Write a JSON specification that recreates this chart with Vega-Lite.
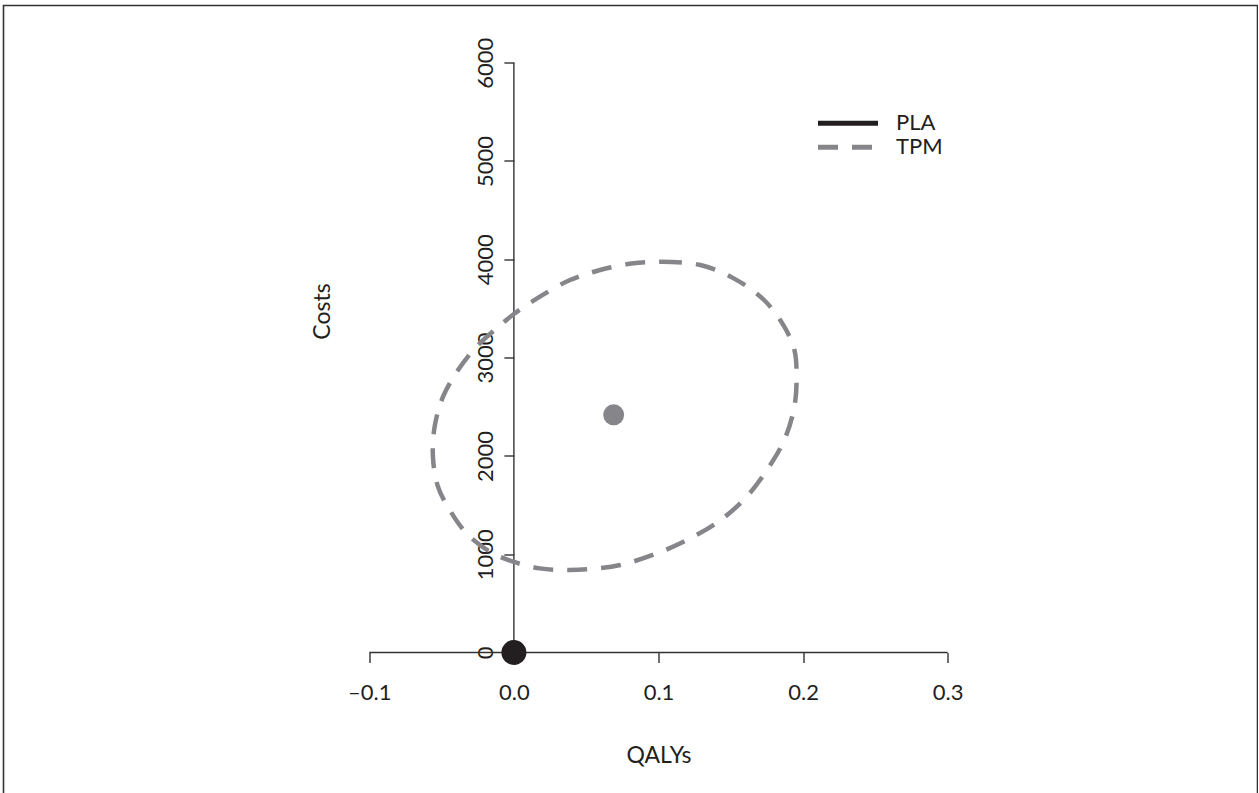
{
  "$schema": "https://vega.github.io/schema/vega-lite/v6.json",
  "autosize": {"type": "none"},
  "padding": {"left": 3.5, "top": 5.5, "right": 0, "bottom": 0},
  "width": 1254,
  "height": 800,
  "background": "white",
  "config": {
    "view": {"stroke": "#333333", "strokeWidth": 1.6},
    "font": "Lato",
    "axis": {"grid": false, "domain": false, "tickColor": "#333333", "tickWidth": 1.4, "tickSize": 10,
             "labelFont": "Lato", "labelFontSize": 22, "labelColor": "#231f20",
             "titleFont": "Lato", "titleFontSize": 23, "titleColor": "#231f20", "titleFontWeight": "normal"}
  },
  "datasets": {
    "axislines": [
      {"x": -0.1, "x2": 0.3, "y": 0, "y2": 0},
      {"x": 0, "x2": 0, "y": 0, "y2": 6000}
    ],
    "ellipse": [
      {"group": "PLA", "i": 0, "qaly": 0, "cost": 0},
      {"group": "TPM", "i": 0, "qaly": 0.1024, "cost": 3976},
      {"group": "TPM", "i": 1, "qaly": 0.129, "cost": 3942},
      {"group": "TPM", "i": 2, "qaly": 0.152, "cost": 3806},
      {"group": "TPM", "i": 3, "qaly": 0.173, "cost": 3586},
      {"group": "TPM", "i": 4, "qaly": 0.187, "cost": 3314},
      {"group": "TPM", "i": 5, "qaly": 0.194, "cost": 3077},
      {"group": "TPM", "i": 6, "qaly": 0.1955, "cost": 2806},
      {"group": "TPM", "i": 7, "qaly": 0.194, "cost": 2501},
      {"group": "TPM", "i": 8, "qaly": 0.187, "cost": 2162},
      {"group": "TPM", "i": 9, "qaly": 0.175, "cost": 1857},
      {"group": "TPM", "i": 10, "qaly": 0.161, "cost": 1585},
      {"group": "TPM", "i": 11, "qaly": 0.143, "cost": 1348},
      {"group": "TPM", "i": 12, "qaly": 0.122, "cost": 1162},
      {"group": "TPM", "i": 13, "qaly": 0.099, "cost": 1009},
      {"group": "TPM", "i": 14, "qaly": 0.0735, "cost": 890},
      {"group": "TPM", "i": 15, "qaly": 0.0504, "cost": 846},
      {"group": "TPM", "i": 16, "qaly": 0.0365, "cost": 839},
      {"group": "TPM", "i": 17, "qaly": 0.018, "cost": 856},
      {"group": "TPM", "i": 18, "qaly": -0.0005, "cost": 924},
      {"group": "TPM", "i": 19, "qaly": -0.0166, "cost": 1025},
      {"group": "TPM", "i": 20, "qaly": -0.0328, "cost": 1213},
      {"group": "TPM", "i": 21, "qaly": -0.0444, "cost": 1450},
      {"group": "TPM", "i": 22, "qaly": -0.0525, "cost": 1687},
      {"group": "TPM", "i": 23, "qaly": -0.056, "cost": 1992},
      {"group": "TPM", "i": 24, "qaly": -0.0548, "cost": 2297},
      {"group": "TPM", "i": 25, "qaly": -0.049, "cost": 2602},
      {"group": "TPM", "i": 26, "qaly": -0.0386, "cost": 2874},
      {"group": "TPM", "i": 27, "qaly": -0.0259, "cost": 3111},
      {"group": "TPM", "i": 28, "qaly": -0.012, "cost": 3298},
      {"group": "TPM", "i": 29, "qaly": 0.0007, "cost": 3451},
      {"group": "TPM", "i": 30, "qaly": 0.018, "cost": 3620},
      {"group": "TPM", "i": 31, "qaly": 0.0388, "cost": 3789},
      {"group": "TPM", "i": 32, "qaly": 0.0596, "cost": 3891},
      {"group": "TPM", "i": 33, "qaly": 0.0827, "cost": 3959},
      {"group": "TPM", "i": 34, "qaly": 0.1024, "cost": 3976}
    ],
    "means": [
      {"group": "PLA", "qaly": 0, "cost": 0},
      {"group": "TPM", "qaly": 0.069, "cost": 2418}
    ]
  },
  "layer": [
    {
      "data": {"name": "axislines"},
      "mark": {"type": "rule", "color": "#333333", "strokeWidth": 1.4},
      "encoding": {
        "x": {"field": "x", "type": "quantitative",
              "scale": {"domain": [-0.35297, 0.51425], "nice": false, "zero": false},
              "axis": {"values": [-0.1, 0, 0.1, 0.2, 0.3], "offset": -153, "labelPadding": 37,
                       "labelBaseline": "alphabetic",
                       "labelExpr": "datum.value < 0 ? '–' + format(-datum.value, '.1f') : format(datum.value, '.1f')",
                       "title": "QALYs", "titleX": 655, "titleY": 110, "titleBaseline": "alphabetic", "titleAlign": "center"}},
        "x2": {"field": "x2"},
        "y": {"field": "y", "type": "quantitative",
              "scale": {"domain": [-1556.5, 6581.9], "nice": false, "zero": false},
              "axis": {"values": [0, 1000, 2000, 3000, 4000, 5000, 6000], "offset": -510.4, "format": "d",
                       "labelAngle": -90, "labelAlign": "center", "labelBaseline": "alphabetic", "labelPadding": 11,
                       "title": "Costs", "titleAngle": -90, "titleX": -191, "titleY": 305.5,
                       "titleAlign": "center", "titleBaseline": "middle"}},
        "y2": {"field": "y2"}
      }
    },
    {
      "data": {"name": "ellipse"},
      "mark": {"type": "line", "strokeWidth": 4.5, "interpolate": "catmull-rom"},
      "encoding": {
        "x": {"field": "qaly", "type": "quantitative"},
        "y": {"field": "cost", "type": "quantitative"},
        "order": {"field": "i", "type": "quantitative"},
        "color": {"field": "group", "type": "nominal",
                  "scale": {"domain": ["PLA", "TPM"], "range": ["#231f20", "#86868a"]},
                  "legend": {"title": null, "orient": "none", "legendX": 833.5, "legendY": 106.8,
                             "symbolType": "M-6,0H6", "symbolSize": 100, "symbolStrokeWidth": 5,
                             "labelFont": "Lato", "labelFontSize": 22, "labelColor": "#231f20",
                             "labelOffset": 37, "rowPadding": 2, "padding": 0}},
        "strokeDash": {"field": "group", "type": "nominal",
                       "scale": {"domain": ["PLA", "TPM"], "range": [[1, 0], [20, 14]]}}
      }
    },
    {
      "data": {"name": "means"},
      "transform": [{"filter": "datum.group === 'PLA'"}],
      "mark": {"type": "point", "shape": "circle", "filled": true, "opacity": 1, "color": "#231f20", "size": 625},
      "encoding": {
        "x": {"field": "qaly", "type": "quantitative"},
        "y": {"field": "cost", "type": "quantitative"}
      }
    },
    {
      "data": {"name": "means"},
      "transform": [{"filter": "datum.group === 'TPM'"}],
      "mark": {"type": "point", "shape": "circle", "filled": true, "opacity": 1, "color": "#86868a", "size": 440},
      "encoding": {
        "x": {"field": "qaly", "type": "quantitative"},
        "y": {"field": "cost", "type": "quantitative"}
      }
    }
  ]
}
